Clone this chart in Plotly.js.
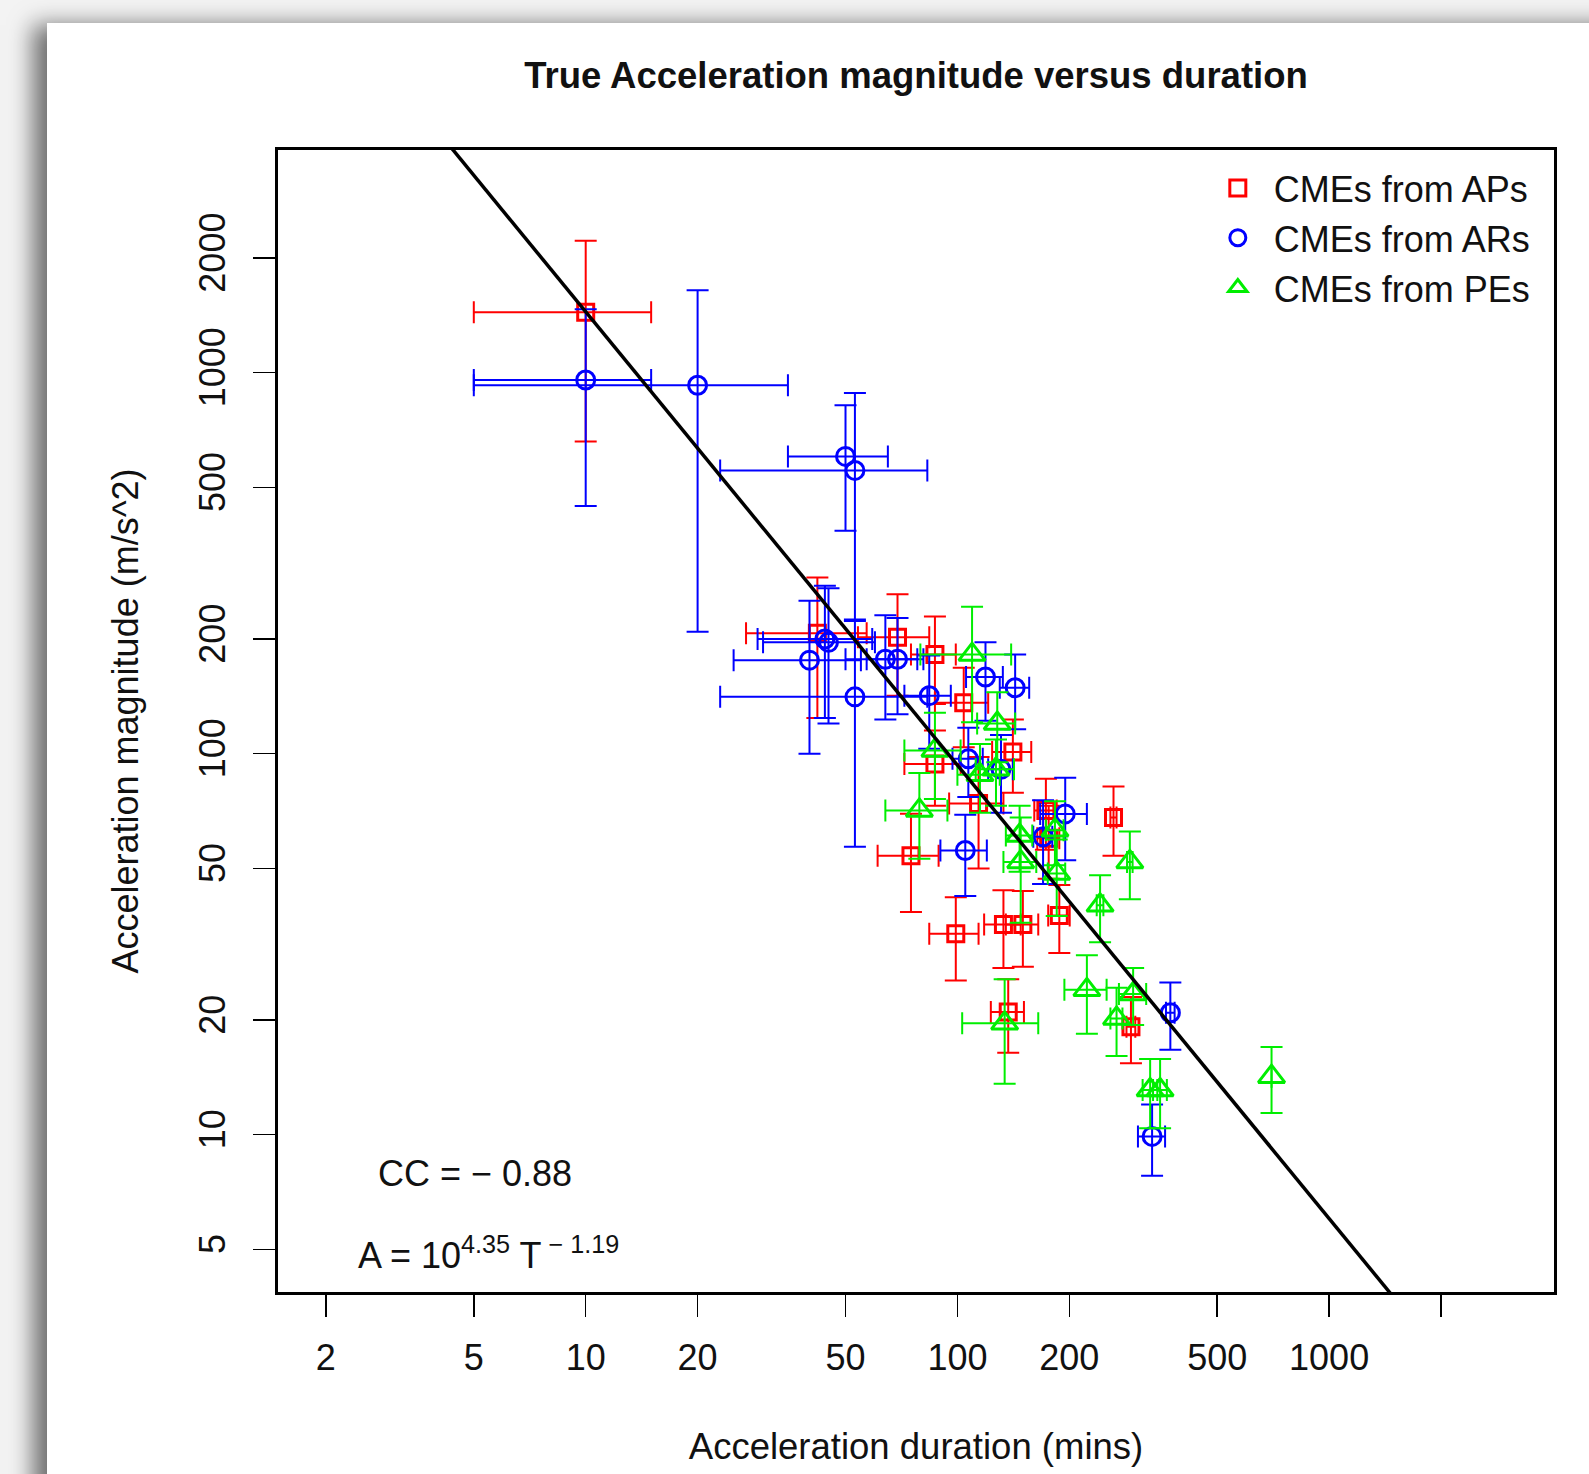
<!DOCTYPE html>
<html>
<head>
<meta charset="utf-8">
<script src="https://cdn.plot.ly/plotly-3.0.1.min.js"></script>
<style>
  html, body { margin: 0; padding: 0; width: 1589px; height: 1474px; overflow: hidden; background: #f3f3f3; }
  #card { position: absolute; left: 47px; top: 23px; width: 1600px; height: 1500px; background: #ffffff;
          box-shadow: -14px 2px 22px rgba(0,0,0,0.55); }
  #chart { position: absolute; left: 0; top: 0; width: 1589px; height: 1474px; }
</style>
</head>
<body>
<div id="card"></div>
<div id="chart"></div>
<script>
// ---- Data ----
// CMEs from APs (red squares)
const apDuration    = [10, 42, 69, 87, 104, 141, 87, 114, 173, 176, 263, 75, 99, 133, 150, 188, 137, 293];
const apDurationErr = [5, 15, 15, 12, 17, 17, 15, 19, 12, 12, 5, 14, 15, 15, 15, 12.5, 14, 8];
const apAccel       = [1440, 207, 202, 182, 136, 101, 94, 74, 71, 60, 68, 54, 33.7, 35.6, 35.6, 37.6, 21, 19.2];
const apAccelErr    = [780, 83, 60, 47, 32, 22, 21, 24, 15, 13, 14, 15.6, 8.3, 8.2, 8, 7.6, 4.6, 3.8];

// CMEs from ARs (blue circles)
const arDuration    = [10, 20, 50, 53, 40, 44, 45, 53, 64, 69, 84, 119, 143, 107, 131, 195, 105, 170, 374, 334];
const arDurationErr = [5, 15, 15, 30, 15, 15, 15, 30, 14, 12, 12, 13.5, 13, 10, 10, 28, 15, 10, 10, 28];
const arAccel       = [957, 927, 603, 554, 176, 200, 196, 141, 177, 177, 142, 159, 149, 97, 91, 69.5, 55.7, 60.5, 20.9, 9.9];
const arAccelErr    = [510, 718, 218, 331, 76, 76, 76, 84, 54, 50, 39, 37, 33, 20, 21, 17, 13.4, 15, 4.2, 2.1];

// CMEs from PEs (green triangles)
const peDuration    = [109.5, 128, 87, 79, 115, 127, 147, 148, 183, 185, 242, 291, 223, 268, 297, 330, 351, 700, 134];
const peDurationErr = [30, 15, 15, 15, 15, 15, 12, 15, 10, 10, 5, 5, 29, 10, 25, 15, 15, 0, 31];
const peAccel       = [182, 120, 102, 71, 88, 91, 61, 52, 63, 48.5, 40, 52, 24, 20.2, 23.4, 13.1, 13.1, 14.2, 19.6];
const peAccelErr    = [61, 25, 26, 18, 18, 18, 12, 16, 12, 11, 8, 10.5, 5.6, 4.1, 4, 2.7, 2.7, 2.8, 6];

// Power-law fit  A = 10^4.35 * T^-1.19
const fitLogCoef = 4.35;
const fitExponent = -1.19;
const fitDurationEnds = [1, 10000];

// Tick labels
const xTickVals = [2, 5, 10, 20, 50, 100, 200, 500, 1000, 2000];
const xTickText = ['2', '5', '10', '20', '50', '100', '200', '500', '1000', ''];
const yTickVals = [5, 10, 20, 50, 100, 200, 500, 1000, 2000];
const yTickText = ['5', '10', '20', '50', '100', '200', '500', '1000', '2000'];

const seriesNames = ['CMEs from APs', 'CMEs from ARs', 'CMEs from PEs'];

// ---- Build chart ----
const FONT = 'Liberation Sans, Arial, Helvetica, sans-serif';
const TXT = '#111111';

function errTrace(name, xs, xe, ys, ye, color, symbol, size) {
  return {
    type: 'scatter', mode: 'markers', name: name,
    x: xs, y: ys,
    error_x: { type: 'data', array: xe, visible: true, color: color, thickness: 2, width: 11 },
    error_y: { type: 'data', array: ye, visible: true, color: color, thickness: 2, width: 11 },
    marker: { symbol: symbol, size: size, color: color, line: { color: color, width: 3 } },
    cliponaxis: true
  };
}

const fitY = fitDurationEnds.map(t => Math.pow(10, fitLogCoef) * Math.pow(t, fitExponent));

const data = [
  errTrace(seriesNames[0], apDuration, apDurationErr, apAccel, apAccelErr, '#ff0000', 'square-open', 16),
  errTrace(seriesNames[1], arDuration, arDurationErr, arAccel, arAccelErr, '#0000ff', 'circle-open', 18),
  errTrace(seriesNames[2], peDuration, peDurationErr, peAccel, peAccelErr, '#00ee00', 'triangle-up-open', 23),
  { type: 'scatter', mode: 'lines', x: fitDurationEnds, y: fitY, showlegend: false,
    line: { color: '#000000', width: 3.5 }, hoverinfo: 'skip' }
];

const axisCommon = {
  type: 'log', showgrid: false, zeroline: false,
  showline: true, mirror: true, linecolor: '#000', linewidth: 3,
  ticks: 'outside', ticklen: 22, tickwidth: 1.5, tickcolor: '#000',
  tickfont: { family: FONT, size: 36, color: TXT },
  tickmode: 'array'
};

const layout = {
  width: 1589, height: 1474,
  margin: { l: 278, r: 35, t: 150, b: 182, pad: 0 },
  paper_bgcolor: 'rgba(0,0,0,0)', plot_bgcolor: 'rgba(0,0,0,0)',
  font: { family: FONT, size: 36, color: TXT },
  title: {
    text: '<b>True Acceleration magnitude versus duration</b>',
    font: { family: FONT, size: 36.5, color: TXT },
    x: 0.5, xref: 'paper', xanchor: 'center',
    y: 1 - 75 / 1474, yref: 'container', yanchor: 'middle'
  },
  xaxis: Object.assign({}, axisCommon, {
    range: [0.1722, 3.605],
    tickvals: xTickVals, ticktext: xTickText,
    ticklabelstandoff: 10,
    title: { text: 'Acceleration duration (mins)', font: { family: FONT, size: 36.5, color: TXT }, standoff: 57 }
  }),
  yaxis: Object.assign({}, axisCommon, {
    range: [0.5872, 3.5845],
    tickvals: yTickVals, ticktext: yTickText,
    tickangle: -90,
    ticklabelstandoff: 14,
    title: { text: 'Acceleration magnitude (m/s^2)', font: { family: FONT, size: 36, color: TXT }, standoff: 42 }
  }),
  showlegend: true,
  legend: {
    x: 0.724, xanchor: 'left', y: 0.993, yanchor: 'top',
    bgcolor: 'rgba(0,0,0,0)', borderwidth: 0,
    font: { family: FONT, size: 36, color: TXT },
    itemwidth: 62, tracegroupgap: 0
  },
  annotations: [
    { text: 'CC = \u2212 0.88', xref: 'paper', yref: 'paper', x: 0.077, y: 0.1038,
      xanchor: 'left', yanchor: 'middle', showarrow: false, font: { family: FONT, size: 36, color: TXT } },
    { text: 'A = 10<sup>4.35</sup> T<sup> \u2212 1.19</sup>', xref: 'paper', yref: 'paper', x: 0.061, y: 0.0125,
      xanchor: 'left', yanchor: 'bottom', showarrow: false, font: { family: FONT, size: 36, color: TXT } }
  ]
};

Plotly.newPlot('chart', data, layout, { displayModeBar: false, staticPlot: true });
</script>
</body>
</html>
